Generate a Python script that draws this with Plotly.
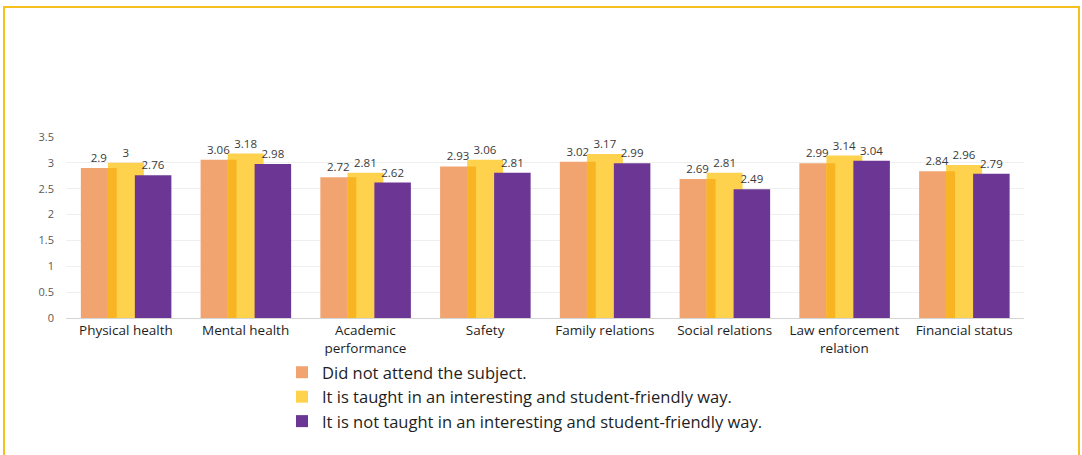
import plotly.graph_objects as go

categories = ["Physical health", "Mental health", "Academic<br>performance", "Safety",
              "Family relations", "Social relations", "Law enforcement<br>relation",
              "Financial status"]
not_attended = [2.9, 3.06, 2.72, 2.93, 3.02, 2.69, 2.99, 2.84]
interesting = [3.0, 3.18, 2.81, 3.06, 3.17, 2.81, 3.14, 2.96]
not_interesting = [2.76, 2.98, 2.62, 2.81, 2.99, 2.49, 3.04, 2.79]

y_ticks = [0, 0.5, 1, 1.5, 2, 2.5, 3, 3.5]
y_tick_labels = ["0", "0.5", "1", "1.5", "2", "2.5", "3", "3.5"]

series_names = ["Did not attend the subject.",
                "It is taught in an interesting and student-friendly way.",
                "It is not taught in an interesting and student-friendly way."]

ORANGE = "#F2A470"
YELLOW = "#FED24C"
BLEND = "#F8B422"
PURPLE = "#6C3794"
FONT = "Open Sans"

W, H = 1082, 455
L, R, T, B = 66, 58, 137, 137
pw, ph = W - L - R, H - T - B

x = list(range(len(categories)))
bw = 0.30
off = [-0.376, -0.15, 0.075]


def fmt(v):
    return f"{v:g}"


fig = go.Figure()
fig.add_bar(x=x, y=not_attended, name=series_names[0], marker_color=ORANGE,
            offset=off[0], width=bw, text=[fmt(v) for v in not_attended])
fig.add_bar(x=x, y=interesting, name=series_names[1], marker_color=YELLOW,
            offset=off[1], width=bw, text=[fmt(v) for v in interesting])
# strip where the yellow column sits over the orange one
overlap = [min(a, b) for a, b in zip(not_attended, interesting)]
fig.add_bar(x=x, y=overlap, marker_color=BLEND, offset=off[1],
            width=off[0] + bw - off[1], showlegend=False, hoverinfo="skip")
fig.add_bar(x=x, y=not_interesting, name=series_names[2], marker_color=PURPLE,
            offset=off[2], width=bw + 0.005, text=[fmt(v) for v in not_interesting])

fig.update_traces(marker_line_width=0, textposition="outside", cliponaxis=False,
                  textfont=dict(family=FONT, size=11.5, color="#3A3A3A"),
                  selector=dict(type="bar"))
fig.data[2].update(text=None, textposition="none")


def px_x(p):
    return (p - L) / pw


def px_y(p):
    return (H - B - p) / ph


fig.add_shape(type="rect", xref="paper", yref="paper",
              x0=px_x(4), x1=px_x(1079), y0=px_y(470), y1=px_y(7),
              line=dict(color="#F6C11E", width=2), fillcolor="rgba(0,0,0,0)", layer="below")

fig.update_layout(
    width=W, height=H, barmode="overlay",
    margin=dict(l=L, r=R, t=T, b=B, pad=0),
    paper_bgcolor="white", plot_bgcolor="white",
    font=dict(family=FONT, color="#1E1E1E"),
    xaxis=dict(tickmode="array", tickvals=x, ticktext=categories, range=[-0.5, 7.5],
               showgrid=False, showline=True, linecolor="#D4D4D4", linewidth=1,
               ticks="", tickfont=dict(family=FONT, size=13.5, color="#1E1E1E")),
    yaxis=dict(range=[0, 3.5], tickmode="array", tickvals=y_ticks, ticktext=y_tick_labels,
               showgrid=True, gridcolor="#EFEFEF", gridwidth=1, zeroline=False,
               showline=False, ticks="", ticklabelstandoff=11,
               tickfont=dict(family=FONT, size=11, color="#595959")),
    legend=dict(orientation="v", x=px_x(282), xanchor="left", y=px_y(355), yanchor="top",
                font=dict(family=FONT, size=16.5, color="#1E1E1E"), itemwidth=30,
                bgcolor="rgba(0,0,0,0)", tracegroupgap=0),
    showlegend=True,
)

fig.write_html("out.html", config={"displayModeBar": False})
